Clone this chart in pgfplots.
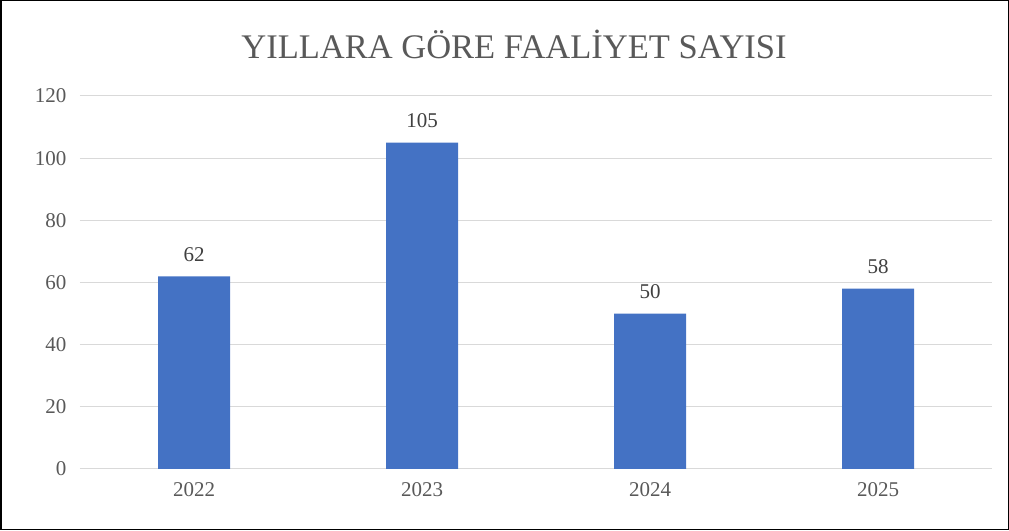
\documentclass[border=0pt]{standalone}
\usepackage{fontspec}
\setmainfont{Liberation Serif}
\usepackage{pgfplots}
\pgfplotsset{compat=1.18}
\definecolor{barblue}{HTML}{4472C4}
\definecolor{gridgray}{HTML}{D9D9D9}
\definecolor{txtgray}{HTML}{595959}
\definecolor{lblgray}{HTML}{404040}
\begin{document}
\begin{tikzpicture}
\draw[line width=1.5pt] (0.75pt,0.75pt) rectangle (1008.25pt,529.25pt);
\node[text=txtgray, font=\fontsize{34.5}{40}\selectfont] at (514pt,486pt) {YILLARA GÖRE FAALİYET SAYISI};
\begin{axis}[
  at={(80pt,61pt)}, anchor=south west,
  scale only axis, width=912pt, height=373pt,
  xmin=-0.5, xmax=3.5, ymin=0, ymax=120,
  xtick=data, xticklabels={2022,2023,2024,2025},
  ytick={0,20,...,120},
  ymajorgrids, grid style={gridgray, line width=1pt},
  axis line style={draw=none},
  major tick length=0pt,
  /pgf/number format/assume math mode=true,
  tick label style={text=txtgray, font=\fontsize{21}{25}\selectfont},
  yticklabel style={xshift=-10pt},
  xticklabel style={yshift=-10pt},
  nodes near coords,
  every node near coord/.append style={text=lblgray, font=\fontsize{21}{25}\selectfont, anchor=south, yshift=11pt},
]
\addplot[ybar, bar width=72pt, fill=barblue, draw=none] coordinates {(0,62) (1,105) (2,50) (3,58)};
\end{axis}
\end{tikzpicture}
\end{document}
